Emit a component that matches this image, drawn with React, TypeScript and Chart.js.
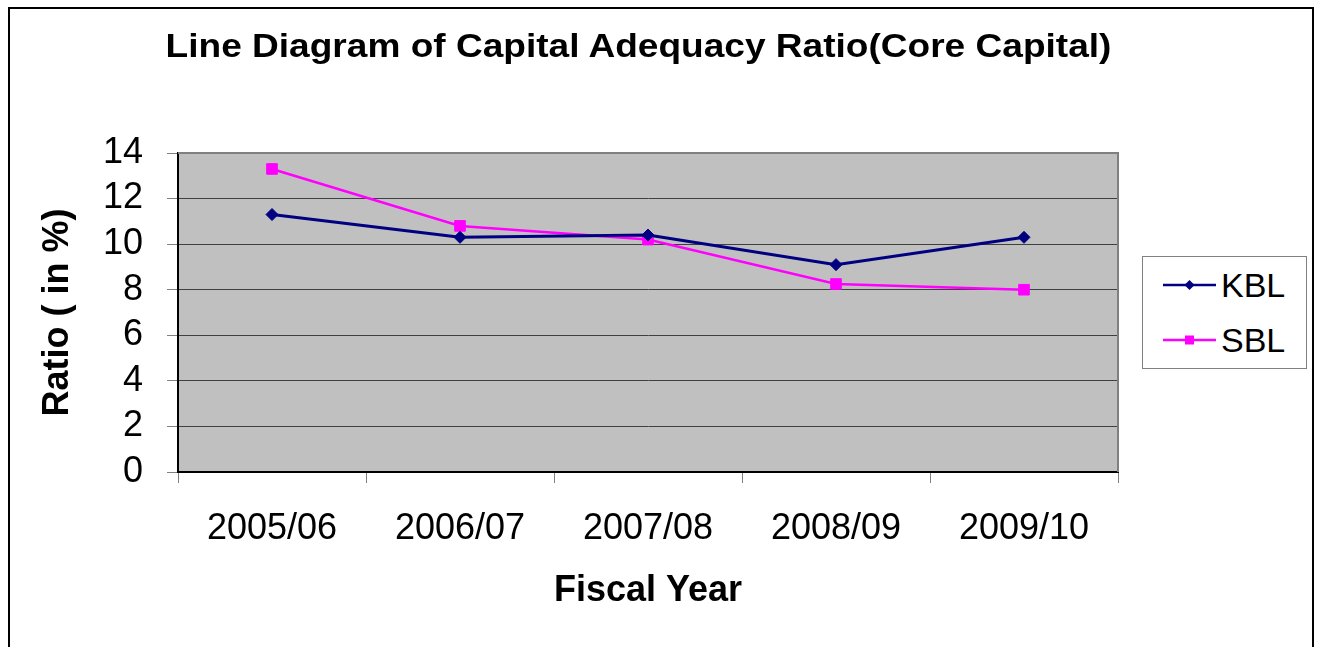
import React, { useEffect, useRef } from "react";
import { Chart, registerables } from "chart.js";

Chart.register(...registerables);

// ---- data ----
const categories = ["2005/06", "2006/07", "2007/08", "2008/09", "2009/10"];
const kblValues = [11.3, 10.3, 10.4, 9.1, 10.3];
const sblValues = [13.3, 10.8, 10.2, 8.25, 8.0];
const yTickValues = [0, 2, 4, 6, 8, 10, 12, 14];
const seriesNames = ["KBL", "SBL"];
const seriesColors = ["#000080", "#FF00FF"];
const chartTitle = "Line Diagram of Capital Adequacy Ratio(Core Capital)";
const xAxisTitle = "Fiscal Year";
const yAxisTitle = "Ratio ( in %)";

const FONT = "'Liberation Sans', Arial, Helvetica, sans-serif";
const W = 1319;
const H = 647;

const plotFrame = {
  id: "plotFrame",
  beforeDraw(chart: any) {
    const { ctx, chartArea: a } = chart;
    ctx.save();
    ctx.fillStyle = "#C0C0C0";
    ctx.fillRect(a.left, a.top, a.right - a.left, a.bottom - a.top);
    ctx.restore();
  },
  beforeDatasetsDraw(chart: any) {
    const { ctx, chartArea: a } = chart;
    ctx.save();
    ctx.strokeStyle = "#808080";
    ctx.lineWidth = 2;
    ctx.beginPath();
    ctx.moveTo(a.left, a.top);
    ctx.lineTo(a.right, a.top);
    ctx.lineTo(a.right, a.bottom);
    ctx.stroke();
    ctx.restore();
  },
};

function LegendSwatch({ color, shape }: { color: string; shape: string }) {
  return (
    <svg width={53} height={14} style={{ display: "block" }}>
      <line x1={0} y1={7} x2={53} y2={7} stroke={color} strokeWidth={2.5} />
      {shape === "diamond" ? (
        <polygon points="26.5,2 31.5,7 26.5,12 21.5,7" fill={color} />
      ) : (
        <rect x={22} y={2.5} width={9} height={9} fill={color} />
      )}
    </svg>
  );
}

export default function App() {
  const canvasRef = useRef<HTMLCanvasElement | null>(null);

  useEffect(() => {
    const canvas = canvasRef.current;
    if (!canvas) return;
    const chart = new Chart(canvas, {
      type: "line",
      data: {
        labels: categories,
        datasets: [
          {
            label: seriesNames[0],
            data: kblValues,
            borderColor: seriesColors[0],
            backgroundColor: seriesColors[0],
            borderWidth: 3,
            pointStyle: "rectRot",
            pointRadius: 6,
            pointBorderWidth: 1,
            tension: 0,
          },
          {
            label: seriesNames[1],
            data: sblValues,
            borderColor: seriesColors[1],
            backgroundColor: seriesColors[1],
            borderWidth: 2.5,
            pointStyle: "rect",
            pointRadius: 7.5,
            pointBorderWidth: 1,
            tension: 0,
          },
        ],
      },
      options: {
        animation: false,
        responsive: false,
        devicePixelRatio: 1,
        layout: { padding: { top: 153, right: 201, left: 0, bottom: 0 } },
        plugins: {
          legend: { display: false },
          tooltip: { enabled: false },
          title: { display: false },
        },
        scales: {
          x: {
            type: "category",
            offset: true,
            grid: {
              offset: true,
              drawOnChartArea: false,
              drawTicks: true,
              tickLength: 11,
              tickColor: "#808080",
              tickWidth: 1,
            },
            border: { display: true, color: "#000000", width: 2 },
            ticks: {
              color: "#000000",
              font: { family: FONT, size: 36 },
              padding: 24,
              maxRotation: 0,
              autoSkip: false,
            },
            title: {
              display: true,
              text: xAxisTitle,
              color: "#000000",
              font: { family: FONT, size: 36, weight: "bold" },
              padding: { top: 0, bottom: 34 },
            },
            afterFit: (s: any) => {
              s.height = 175;
            },
          },
          y: {
            min: 0,
            max: 14,
            afterBuildTicks: (s: any) => {
              s.ticks = yTickValues.map((v) => ({ value: v }));
            },
            grid: {
              color: (c: any) =>
                c.tick && c.tick.value === 14 ? "rgba(0,0,0,0)" : "#404040",
              lineWidth: 1,
              drawTicks: true,
              tickLength: 11,
              tickColor: "#808080",
            },
            border: { display: true, color: "#000000", width: 2 },
            ticks: {
              color: "#000000",
              font: { family: FONT, size: 36 },
              padding: 24,
              autoSkip: false,
            },
            title: {
              display: true,
              text: yAxisTitle,
              color: "#000000",
              font: { family: FONT, size: 36, weight: "bold" },
              padding: { top: 36, bottom: 0 },
            },
            afterFit: (s: any) => {
              s.width = 178;
            },
          },
        },
      } as any,
      plugins: [plotFrame],
    });
    return () => chart.destroy();
  }, []);

  return (
    <div
      style={{
        position: "fixed",
        left: 0,
        top: 0,
        width: W,
        height: H,
        overflow: "hidden",
        background: "#ffffff",
        fontFamily: FONT,
      }}
    >
      <div
        style={{
          position: "absolute",
          left: 8,
          top: 7,
          width: 1302,
          height: 700,
          border: "2px solid #000000",
        }}
      />
      <canvas
        ref={canvasRef}
        width={W}
        height={H}
        style={{ position: "absolute", left: 0, top: 0, width: W, height: H }}
      />
      <div
        style={{
          position: "absolute",
          left: 0,
          top: 28,
          width: 1277,
          textAlign: "center",
          fontSize: 34,
          lineHeight: 1,
          fontWeight: "bold",
          color: "#000",
          whiteSpace: "nowrap",
          transform: "scaleX(1.09)",
          transformOrigin: "638.5px 0",
        }}
      >
        {chartTitle}
      </div>
      <div
        style={{
          position: "absolute",
          left: 1142,
          top: 256,
          width: 165,
          height: 113,
          boxSizing: "border-box",
          border: "1px solid #808080",
          background: "#ffffff",
        }}
      >
        {seriesNames.map((name, i) => (
          <div
            key={name}
            style={{
              position: "absolute",
              left: 20,
              top: (i === 0 ? 28 : 83) - 20,
              height: 40,
              display: "flex",
              alignItems: "center",
            }}
          >
            <LegendSwatch color={seriesColors[i]} shape={i === 0 ? "diamond" : "square"} />
            <span style={{ marginLeft: 5, fontSize: 34, lineHeight: "40px", color: "#000" }}>
              {name}
            </span>
          </div>
        ))}
      </div>
    </div>
  );
}
